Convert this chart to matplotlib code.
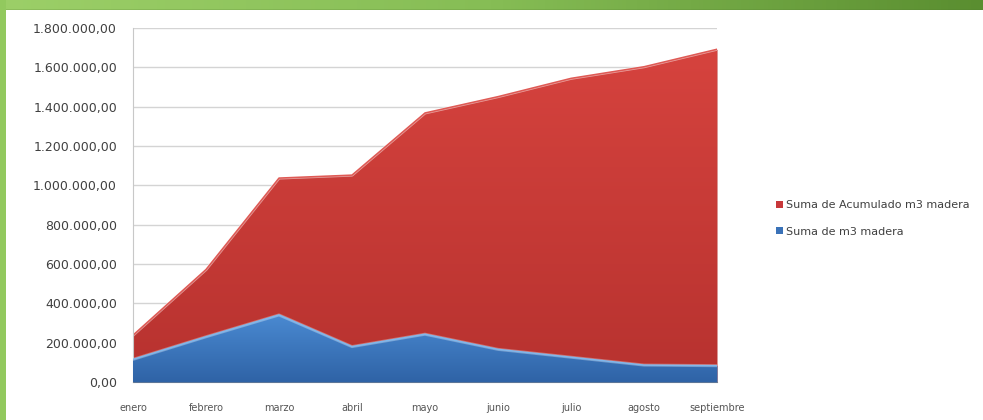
import matplotlib
matplotlib.use("Agg")
import matplotlib.pyplot as plt
import numpy as np
from matplotlib.ticker import FuncFormatter
from matplotlib.colors import LinearSegmentedColormap
from matplotlib.patches import Patch

# --- data ---
meses = ["enero", "febrero", "marzo", "abril", "mayo", "junio", "julio", "agosto", "septiembre"]
acumulado = [238000, 572000, 1037000, 1052000, 1368000, 1451000, 1544000, 1603000, 1692000]
m3_madera = [115000, 230000, 341000, 180000, 243000, 166000, 126000, 86000, 83000]
y_ticks = [0, 200000, 400000, 600000, 800000, 1000000, 1200000, 1400000, 1600000, 1800000]
series_names = ["Suma de Acumulado m3 madera", "Suma de m3 madera"]

W, H = 983, 420
fig = plt.figure(figsize=(W / 100, H / 100), dpi=100)
fig.patch.set_facecolor("white")

# green frame: gradient band on top, plain strip on the left
band = fig.add_axes([0, 1 - 10 / H, 1, 10 / H])
grad = np.linspace(0, 1, 256).reshape(1, -1)
green = LinearSegmentedColormap.from_list("g", ["#9ccf68", "#86bd55", "#5a8e30"])
band.imshow(grad, aspect="auto", cmap=green, extent=[0, 1, 0, 1])
band.axis("off")
band.axhline(0.03, color="#4f7a2c", lw=1)
side = fig.add_axes([0, 0, 6 / W, 1])
side.set_facecolor("#92c95e")
side.set_xticks([])
side.set_yticks([])
for s in side.spines.values():
    s.set_visible(False)

ax = fig.add_axes([133 / W, (H - 382) / H, 584 / W, 354 / H])
x = np.arange(len(meses))

def gradient_area(yvals, top_col, bot_col, edge_col, halo_alpha, zorder):
    coll = ax.fill_between(x, 0, yvals, color=bot_col, lw=0, zorder=zorder)
    cmap = LinearSegmentedColormap.from_list("c", [bot_col, top_col])
    img = np.linspace(0, 1, 256).reshape(-1, 1)
    im = ax.imshow(img, aspect="auto", cmap=cmap, origin="lower",
                   extent=[x[0], x[-1], 0, max(yvals)], zorder=zorder + 0.1)
    im.set_clip_path(coll.get_paths()[0], transform=ax.transData)
    ax.plot(x, yvals, color="white", lw=2.2, alpha=halo_alpha, zorder=zorder + 0.2, solid_joinstyle="round")
    ax.plot(x, yvals, color=edge_col, lw=1.1, zorder=zorder + 0.3, solid_joinstyle="round")
    return coll

gradient_area(acumulado, "#d6433e", "#b7322f", "#df5a55", 0.5, 2)
gradient_area(m3_madera, "#4a8ad2", "#2f63a6", "#80b8ec", 0.3, 3)

ax.set_xlim(x[0], x[-1])
ax.set_ylim(0, 1800000)
ax.set_yticks(y_ticks)
ax.yaxis.set_major_formatter(FuncFormatter(
    lambda v, p: "{:,.2f}".format(v).replace(",", "X").replace(".", ",").replace("X", ".")))
ax.set_xticks(x)
ax.set_xticklabels(meses)
ax.grid(axis="y", color="#d4d4d4", lw=1, zorder=0)
ax.set_axisbelow(True)
ax.tick_params(axis="x", length=0, labelsize=7, colors="#555555", pad=15)
ax.tick_params(axis="y", length=0, labelsize=9, colors="#404040", pad=11.5)
for k in ["top", "right"]:
    ax.spines[k].set_visible(False)
ax.spines["left"].set_color("#c8c8c8")
ax.spines["bottom"].set_color("#8a8a8a")
ax.set_facecolor("white")

# legend
handles = [Patch(facecolor="#c8383a", edgecolor="none"), Patch(facecolor="#3a72b8", edgecolor="none")]
fig.legend(handles, series_names,
           loc="upper left", bbox_to_anchor=(766 / W, 1 - 190 / H), frameon=False,
           handlelength=0.6, handleheight=0.6, handletextpad=0.3, labelspacing=1.5,
           prop={"size": 8}, labelcolor="#404040")

fig.savefig("out.png", dpi=100)
